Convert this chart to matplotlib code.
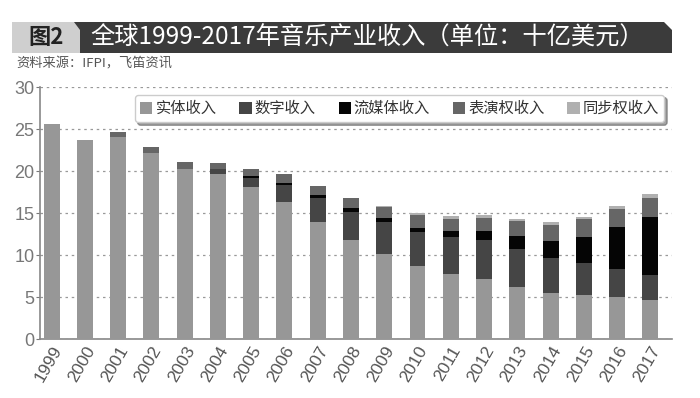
import numpy as np
import matplotlib.pyplot as plt
from matplotlib.patches import Polygon

plt.rcParams['font.family'] = ['Noto Sans CJK SC', 'DejaVu Sans']

years = [str(y) for y in range(1999, 2018)]
physical = [25.6, 23.7, 24.1, 22.2, 20.2, 19.6, 18.1, 16.3, 14.0, 11.75,
            10.1, 8.7, 7.8, 7.2, 6.2, 5.5, 5.2, 5.0, 4.65]
digital = [0, 0, 0, 0, 0, 0.6, 1.1, 2.1, 2.8, 3.4,
           3.8, 4.1, 4.4, 4.6, 4.5, 4.15, 3.9, 3.3, 2.95]
streaming = [0, 0, 0, 0, 0, 0, 0.2, 0.2, 0.3, 0.45,
             0.5, 0.4, 0.7, 1.1, 1.55, 2.05, 3.0, 5.0, 6.95]
performance = [0, 0, 0.6, 0.65, 0.9, 0.8, 0.8, 1.0, 1.15, 1.25,
               1.3, 1.6, 1.4, 1.55, 1.8, 1.9, 2.15, 2.2, 2.3]
sync = [0, 0, 0, 0, 0, 0, 0, 0, 0, 0,
        0.1, 0.2, 0.3, 0.3, 0.3, 0.3, 0.3, 0.4, 0.45]

names = ['实体收入', '数字收入', '流媒体收入', '表演权收入', '同步权收入']
series = [physical, digital, streaming, performance, sync]
colors = ['#979797', '#454545', '#050505', '#666666', '#b0b0b0']

fig = plt.figure(figsize=(7, 3.98), dpi=100)
ax = fig.add_axes([0.057, 0.148, 0.903, 0.633])

x = np.arange(len(years))
bottom = np.zeros(len(years))
for name, vals, c in zip(names, series, colors):
    ax.bar(x, vals, 0.48, bottom=bottom, color=c, label=name, zorder=3)
    bottom += np.array(vals)

ax.set_xlim(-0.35, 18.65)
ax.set_ylim(0, 30)
ax.set_yticks(range(0, 31, 5))
ax.set_xticks(x)
ax.set_xticklabels(years, rotation=60, ha='right', rotation_mode='anchor',
                   fontsize=12.5, color='#555555', family='Liberation Sans')
ax.tick_params(axis='y', labelsize=13, colors='#777777', length=3, pad=1)
ax.tick_params(axis='x', length=0, pad=3)
for t in ax.get_yticklabels():
    t.set_family('Liberation Sans')
ax.yaxis.grid(True, linestyle=(0, (2, 3)), color='#999999', linewidth=0.9, zorder=0)
for s in ['top', 'right']:
    ax.spines[s].set_visible(False)
ax.spines['left'].set_color('#888888')
ax.spines['bottom'].set_color('#888888')
ax.spines['left'].set_linewidth(1.2)
ax.spines['bottom'].set_linewidth(1.2)

leg = ax.legend(ncol=5, loc='upper right', bbox_to_anchor=(1.0, 1.0),
                fontsize=11, frameon=True, fancybox=True, shadow=True,
                handlelength=0.8, handleheight=0.8, handletextpad=0.2,
                columnspacing=1.5, borderpad=0.35, labelcolor='#333333')
leg.get_frame().set_edgecolor('#cccccc')

# title banner
W, H = 700, 398
def fc(px, py):
    return (px / W, 1 - py / H)

dark = Polygon([fc(72, 22), fc(664, 22), fc(672, 30), fc(672, 53), fc(72, 53)],
               closed=True, transform=fig.transFigure, facecolor='#3b3b3b',
               edgecolor='none')
light = Polygon([fc(12, 22), fc(74, 22), fc(80, 30), fc(80, 53), fc(12, 53)],
                closed=True, transform=fig.transFigure, facecolor='#cfcfcf',
                edgecolor='none')
fig.patches.extend([dark, light])
fig.text(46 / W, 1 - 38 / H, '图2', ha='center', va='center', fontsize=16,
         fontweight='bold', color='#222222')
fig.text(90 / W, 1 - 38 / H, '全球1999-2017年音乐产业收入（单位：十亿美元）',
         ha='left', va='center', fontsize=17.5, color='white')
fig.text(16 / W, 1 - 64 / H, '资料来源：IFPI，飞笛资讯', ha='left', va='center',
         fontsize=9.5, color='#555555')

fig.savefig('out.png', dpi=100)
